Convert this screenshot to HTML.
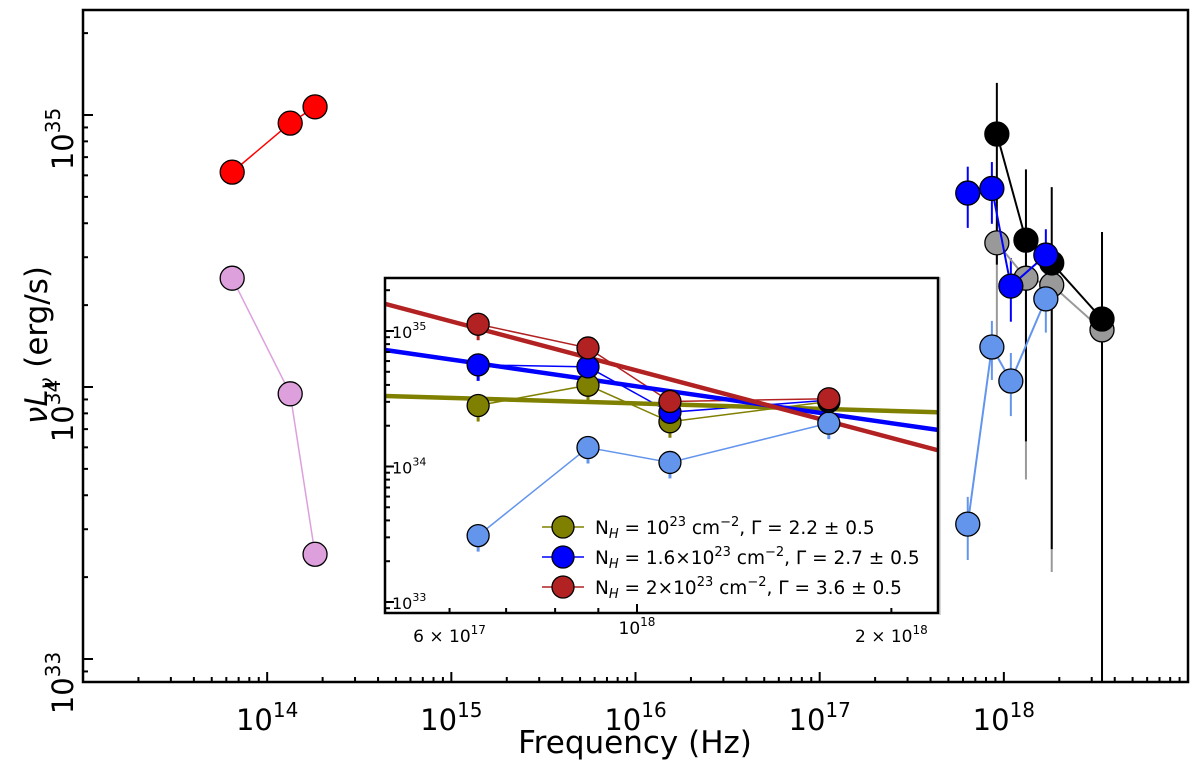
<!DOCTYPE html>
<html><head><meta charset="utf-8">
<style>
html,body{margin:0;padding:0;background:#fff;}
svg{display:block;font-family:"DejaVu Sans","Liberation Sans",sans-serif;}
</style></head>
<body>
<svg id="chart" width="1200" height="765" viewBox="0 0 1200 765" xmlns="http://www.w3.org/2000/svg">
<rect x="0" y="0" width="1200" height="765" fill="#fff"/>
<g id="main"></g>
<g id="inset"></g>
</svg>
<script>
// ---- main plot data (log10 values) ----
const irX = [13.81, 14.125, 14.26];
const redY = [34.79, 34.97, 35.03];
const pinkY = [34.40, 33.975, 33.385];
const blkX = [17.962, 18.12, 18.26, 18.533];
const blackY = [34.93, 34.54, 34.456, 34.25];
const blackHi = [35.118, 34.80, 34.735, 34.57];
const blackLo = [34.45, 33.80, 33.404, 32.0];
const grayY = [34.53, 34.40, 34.375, 34.21];
const grayHi = [34.60, 34.50, 34.45, 34.30];
const grayLo = [34.18, 33.66, 33.32, 32.0];
const xrX = [17.804, 17.935, 18.038, 18.228];
const blueY = [34.713, 34.73, 34.371, 34.485];
const blueHi = [34.81, 34.827, 34.474, 34.58];
const blueLo = [34.585, 34.60, 34.24, 34.39];
const lbY = [33.496, 34.147, 34.022, 34.324];
const lbHi = [33.596, 34.243, 34.125, 34.423];
const lbLo = [33.364, 34.026, 33.893, 34.20];
const xTickLabels = ["14","15","16","17","18"];
const yTickLabels = ["33","34","35"];
// ---- inset data ----
const inX = [17.812, 17.942, 18.039, 18.227];
const inOlive = [34.45, 34.60, 34.33, 34.48];
const inBlue = [34.75, 34.735, 34.40, 34.49];
const inRed = [35.05, 34.875, 34.48, 34.50];
const inLB = [33.49, 34.14, 34.03, 34.32];
const fitX = [17.702, 18.356];
const fitOlive = [34.52, 34.40];
const fitBlue = [34.86, 34.27];
const fitRed = [35.20, 34.12];

const NS = "http://www.w3.org/2000/svg";
function mk(parent, tag, attrs){const e=document.createElementNS(NS,tag);for(const k in attrs)e.setAttribute(k,attrs[k]);parent.appendChild(e);return e;}
const main=document.getElementById('main');
const inset=document.getElementById('inset');

const X = l => 83 + (l-13)*184.17;
const Y = v => 115 + (35-v)*272;
const PL=83, PR=1188, PT=10, PB=682;

function series(g, xs, ys, color, name, lw){
  let d=''; xs.forEach((x,i)=>{d+=(i?'L':'M')+X(x)+' '+Y(ys[i]);});
  const p=mk(g,'path',{d:d,fill:'none',stroke:color,'stroke-width':lw||1.5});
  
  
}
function errs(g, xs, hi, lo, color, name){
  xs.forEach((x,i)=>{
    const l=mk(g,'line',{x1:X(x),x2:X(x),y1:Y(hi[i]),y2:Math.min(Y(lo[i]),PB),stroke:color,'stroke-width':2});
    
    
  });
}
function pts(g, xs, ys, color, name){
  xs.forEach((x,i)=>{
    const c=mk(g,'circle',{cx:X(x),cy:Y(ys[i]),r:12,fill:color,stroke:'#000','stroke-width':1.3});
    
    
  });
}
mk(main,'line',{x1:940,x2:940,y1:277,y2:615,stroke:'#ccc','stroke-width':1.5});
series(main,irX,redY,'#ff0000','red-series');
pts(main,irX,redY,'#ff0000','red-series');
series(main,irX,pinkY,'#dda0dd','pink-series');
pts(main,irX,pinkY,'#dda0dd','pink-series');
errs(main,blkX,grayHi,grayLo,'#999999','gray-series');
errs(main,blkX,blackHi,blackLo,'#000000','black-series');
errs(main,xrX,blueHi,blueLo,'#0000ff','blue-series');
errs(main,xrX,lbHi,lbLo,'#6495ed','lightblue-series');
series(main,blkX,grayY,'#999999','gray-series',2);
pts(main,blkX,grayY,'#999999','gray-series');
series(main,blkX,blackY,'#000000','black-series',2);
pts(main,blkX,blackY,'#000000','black-series');
series(main,xrX,blueY,'#0000ff','blue-series',2);
pts(main,xrX,blueY,'#0000ff','blue-series');
series(main,xrX,lbY,'#6495ed','lightblue-series',2);
pts(main,xrX,lbY,'#6495ed','lightblue-series');

for(let d=13; d<19; d++){
  for(let m=1;m<10;m++){
    const px=X(d+Math.log10(m));
    if(px<=PL+1||px>=PR-1) continue;
    mk(main,'line',{x1:px,x2:px,y1:PB,y2:PB-(m===1?10:5),stroke:'#000','stroke-width':2});
  }
}
for(let d=32; d<36; d++){
  for(let m=1;m<10;m++){
    const py=Y(d+Math.log10(m));
    if(py<=PT+1||py>=PB-1) continue;
    mk(main,'line',{x1:PL,x2:PL+(m===1?10:5),y1:py,y2:py,stroke:'#000','stroke-width':2});
  }
}
xTickLabels.forEach(t=>{
  const tx=mk(main,'text',{x:X(+t),y:730,'font-size':29,'text-anchor':'middle',fill:'#000'});
  
  
  tx.innerHTML='10<tspan dy="-13" font-size="20">'+t+'</tspan>';
});
yTickLabels.forEach(t=>{
  const cy=Y(+t)+24;
  const tx=mk(main,'text',{x:0,y:0,'font-size':29,'text-anchor':'middle',fill:'#000',transform:'translate(73,'+cy+') rotate(-90)'});
  
  
  tx.innerHTML='10<tspan dy="-13" font-size="20">'+t+'</tspan>';
});
const xt=mk(main,'text',{x:635,y:753,'font-size':31,'text-anchor':'middle',fill:'#000'});


xt.textContent='Frequency (Hz)';
const yt=mk(main,'text',{x:0,y:0,'font-size':31,'text-anchor':'middle',fill:'#000',transform:'translate(47,345) rotate(-90)'});


yt.innerHTML='<tspan font-style="italic">νL</tspan><tspan font-style="italic" font-size="21" dy="7">ν</tspan><tspan dy="-7"> (erg/s)</tspan>';
mk(main,'rect',{x:PL,y:PT,width:PR-PL,height:PB-PT,fill:'none',stroke:'#000','stroke-width':2.5});

// ---- inset ----
const IL=385, IR=938, IT=278, IB=613;
const XI = l => 637 + (l-18)*845;
const YI = v => 331 + (35-v)*135.5;
const bg=mk(inset,'rect',{x:IL,y:IT,width:IR-IL,height:IB-IT,fill:'#fff'});


const defs=mk(inset,'defs',{});
const cp=mk(defs,'clipPath',{id:'ic'});
mk(cp,'rect',{x:IL,y:IT,width:IR-IL,height:IB-IT});
const ig=mk(inset,'g',{'clip-path':'url(#ic)'});
function fit(ys,color,name){
  const l=mk(ig,'line',{x1:XI(fitX[0]),y1:YI(ys[0]),x2:XI(fitX[1]),y2:YI(ys[1]),stroke:color,'stroke-width':4.5});
  
  
}
function iseries(ys,color,name){
  let d=''; inX.forEach((x,i)=>{d+=(i?'L':'M')+XI(x)+' '+YI(ys[i]);});
  const p=mk(ig,'path',{d:d,fill:'none',stroke:color,'stroke-width':1.5});
  
  
  inX.forEach((x,i)=>{
    const e=mk(ig,'line',{x1:XI(x),x2:XI(x),y1:YI(ys[i]),y2:YI(ys[i])+16,stroke:color,'stroke-width':3});
    
    
  });
}
function ipts(ys,color,name){
  inX.forEach((x,i)=>{
    const c=mk(ig,'circle',{cx:XI(x),cy:YI(ys[i]),r:11,fill:color,stroke:'#000','stroke-width':1.3});
    
    
  });
}
iseries(inLB,'#6495ed','inset-lightblue');
iseries(inOlive,'#808000','inset-olive');
iseries(inBlue,'#0000ff','inset-blue');
iseries(inRed,'#b22222','inset-red');
fit(fitOlive,'#808000','olive');
fit(fitBlue,'#0000ff','blue');
fit(fitRed,'#b22222','red');
ipts(inLB,'#6495ed','inset-lightblue');
ipts(inOlive,'#808000','inset-olive');
ipts(inBlue,'#0000ff','inset-blue');
ipts(inRed,'#b22222','inset-red');
for(let d=32; d<36; d++){
  for(let m=1;m<10;m++){
    const py=YI(d+Math.log10(m));
    if(py<=IT+1||py>=IB-1) continue;
    mk(inset,'line',{x1:IL,x2:IL+(m===1?9:5),y1:py,y2:py,stroke:'#000','stroke-width':2});
  }
}
for(let d=17; d<19; d++){
  for(let m=1;m<10;m++){
    const px=XI(d+Math.log10(m));
    if(px<=IL+1||px>=IR-1) continue;
    mk(inset,'line',{x1:px,x2:px,y1:IB,y2:IB-(m===1?9:5),stroke:'#000','stroke-width':2});
  }
}
["35","34","33"].forEach(t=>{
  const tx=mk(inset,'text',{x:392,y:YI(+t)+7,'font-size':16,fill:'#000'});
  
  
  tx.innerHTML='10<tspan dy="-8" font-size="11">'+t+'</tspan>';
});
[["6 × 10","17",17+Math.log10(6)],["10","18",18],["2 × 10","18",18+Math.log10(2)]].forEach(a=>{
  const tx=mk(inset,'text',{x:XI(a[2]),y:a[1]==='18'&&a[0]==='10'?634:642,'font-size':17,'text-anchor':'middle',fill:'#000'});
  
  
  tx.innerHTML=a[0]+'<tspan dy="-8" font-size="12">'+a[1]+'</tspan>';
});
const legC=['#808000','#0000ff','#b22222'];
const legT=[
 'N<tspan font-size="13" font-style="italic" dy="4">H</tspan><tspan dy="-4"> = 10</tspan><tspan dy="-8" font-size="13">23</tspan><tspan dy="8"> cm</tspan><tspan dy="-8" font-size="13">−2</tspan><tspan dy="8">, Γ = 2.2 ± 0.5</tspan>',
 'N<tspan font-size="13" font-style="italic" dy="4">H</tspan><tspan dy="-4"> = 1.6×10</tspan><tspan dy="-8" font-size="13">23</tspan><tspan dy="8"> cm</tspan><tspan dy="-8" font-size="13">−2</tspan><tspan dy="8">, Γ = 2.7 ± 0.5</tspan>',
 'N<tspan font-size="13" font-style="italic" dy="4">H</tspan><tspan dy="-4"> = 2×10</tspan><tspan dy="-8" font-size="13">23</tspan><tspan dy="8"> cm</tspan><tspan dy="-8" font-size="13">−2</tspan><tspan dy="8">, Γ = 3.6 ± 0.5</tspan>'
];
legT.forEach((t,i)=>{
  const y=527+i*30;
  const g=mk(inset,'g',{});
  
  
  mk(g,'line',{x1:542,x2:584,y1:y,y2:y,stroke:legC[i],'stroke-width':1.5});
  mk(g,'circle',{cx:563,cy:y,r:11,fill:legC[i],stroke:'#000','stroke-width':1.3});
  const tx=mk(g,'text',{x:595,y:y+7,'font-size':18.5,fill:'#000'});
  tx.innerHTML=t;
});
const fr=mk(inset,'rect',{x:IL,y:IT,width:IR-IL,height:IB-IT,fill:'none',stroke:'#000','stroke-width':2.5});


</script>
</body></html>
